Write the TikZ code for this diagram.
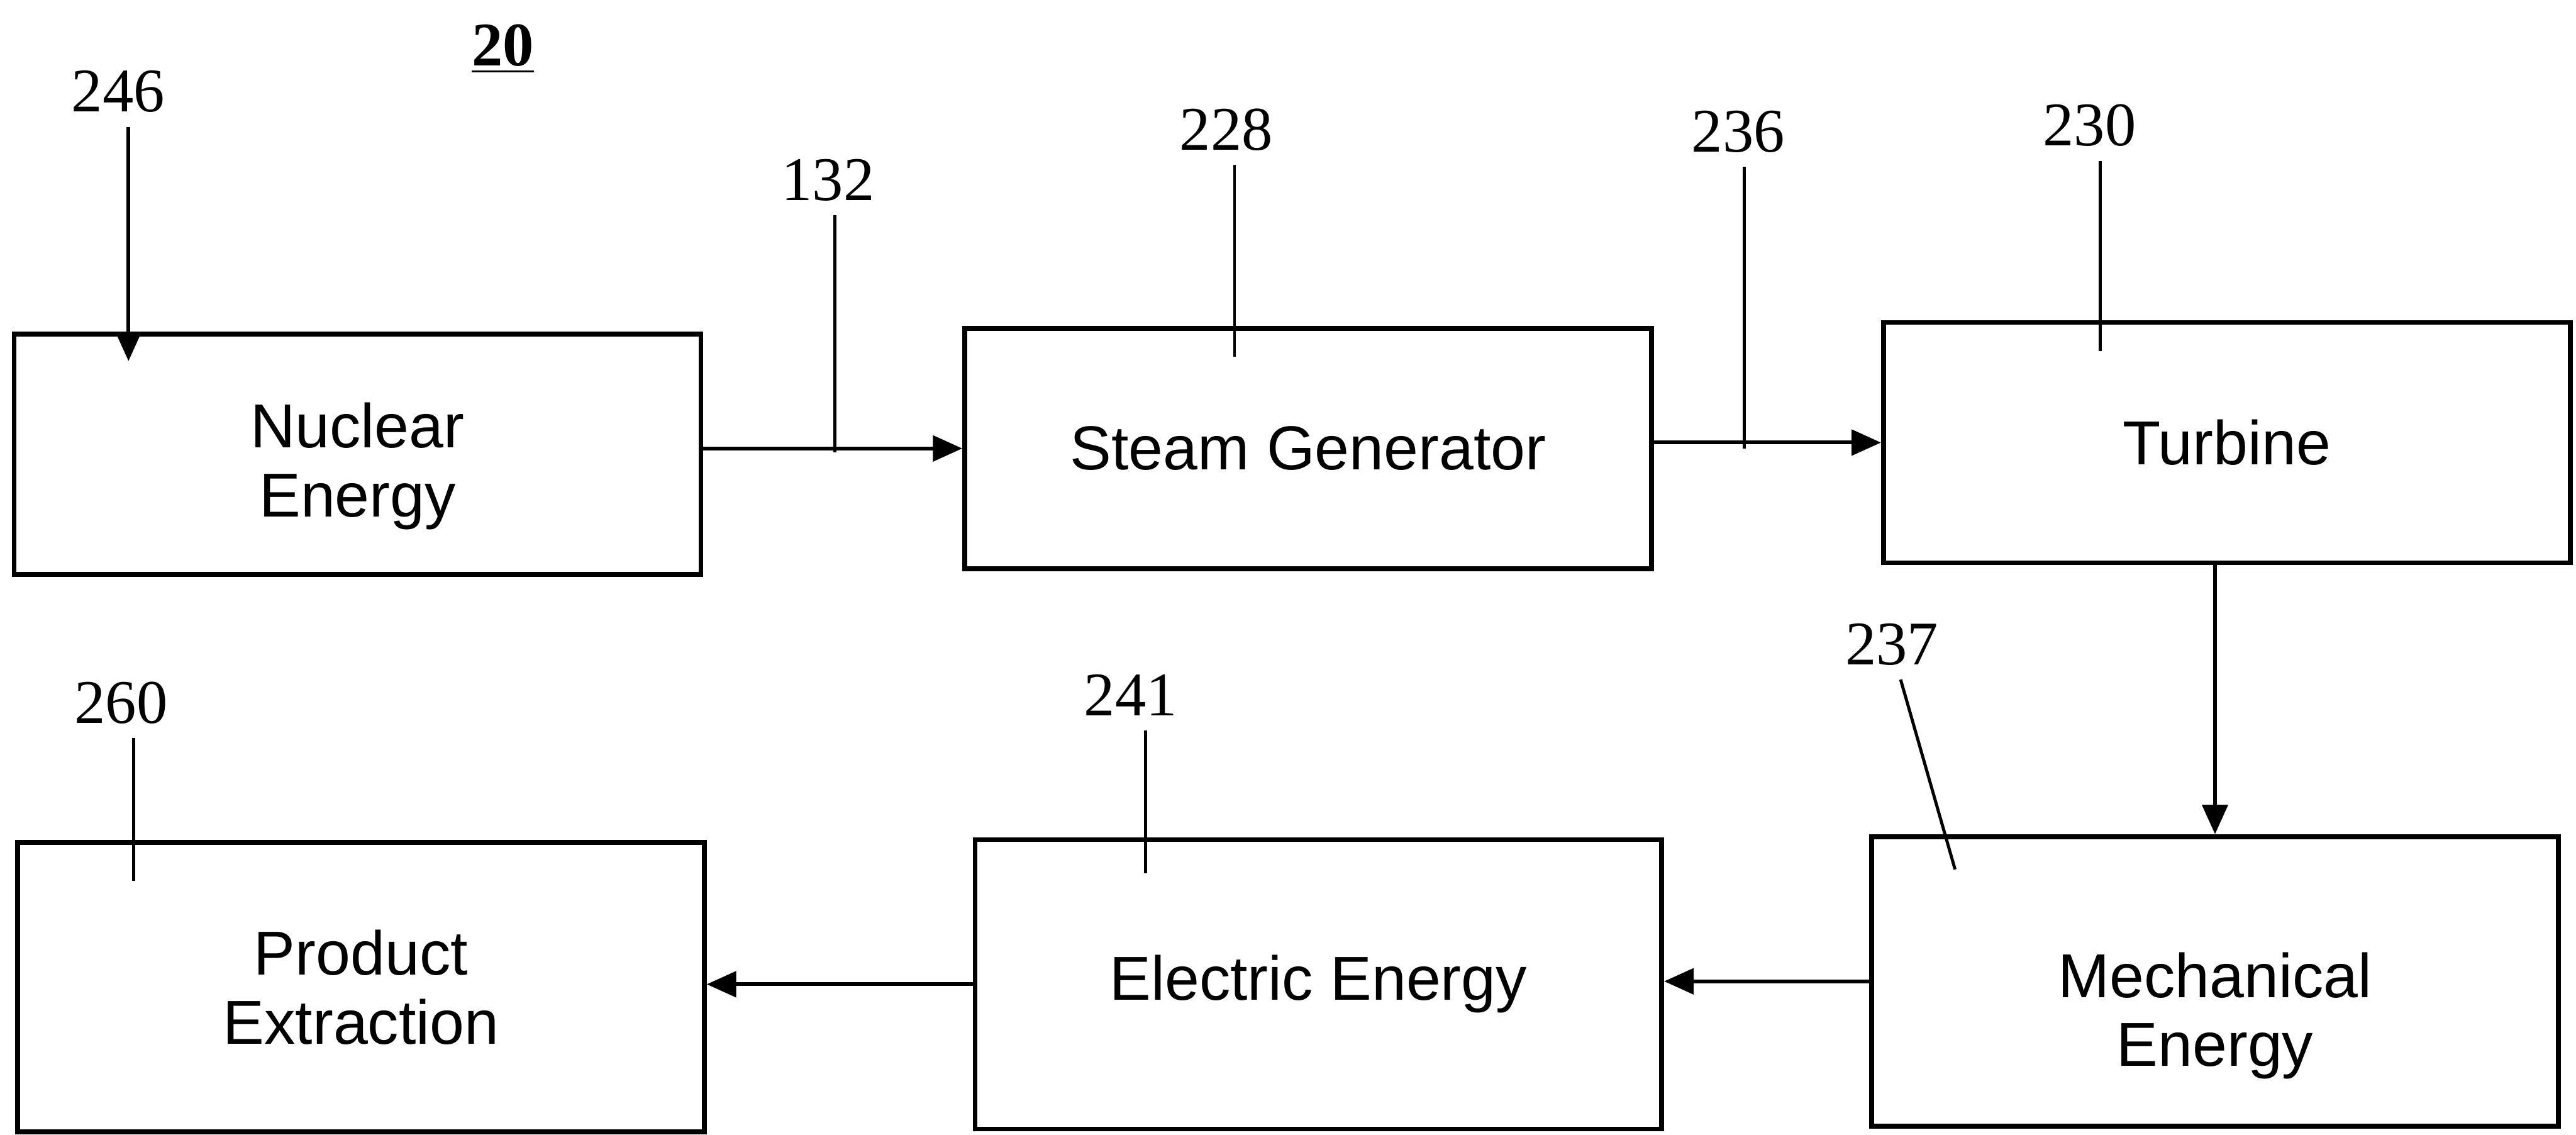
\documentclass[tikz,border=0pt]{standalone}
\usepackage{fontspec}
\setmainfont{Liberation Sans}
\newfontfamily\numfont{Liberation Serif}
\usepackage{tikz}
\usetikzlibrary{arrows.meta, positioning}

\begin{document}
\begin{tikzpicture}[
        box/.style={rectangle, draw=black, line width=1.4pt, minimum width=7cm, minimum height=2.45cm, align=center, font=\fontsize{18}{20}\selectfont},
        lowbox/.style={box, minimum height=2.95cm},
        num/.style={inner sep=4pt, font=\numfont\fontsize{18}{20}\selectfont},
        arrow/.style={-{Triangle[length=0.3cm, width=0.26cm]}, line width=1.1pt},
        lead/.style={line width=0.9pt}
    ]
        \useasboundingbox (0,0) rectangle (26.26,11.56);

        % Top Row
        \node[box, text height=40pt] (nuc) at (3.645, 6.93) {Nuclear\\Energy};
        \node[box] (steam) at (13.335, 6.99) {Steam Generator};
        \node[box] (turb) at (22.70, 7.05) {Turbine};

        % Bottom Row
        \node[lowbox] (prod) at (3.68, 1.50) {Product\\Extraction};
        \node[lowbox] (elec) at (13.44, 1.53) {Electric Energy};
        \node[lowbox, text height=53pt] (mech) at (22.58, 1.56) {Mechanical\\Energy};

        % Reference numbers
        \node[num] (fig) at (5.125, 11.06) {\bfseries\underline{20}};
        \node[num] (n246) at (1.205, 10.625) {246};
        \node[num] (n132) at (8.44, 9.725) {132};
        \node[num] (n228) at (12.50, 10.24) {228};
        \node[num] (n236) at (17.72, 10.22) {236};
        \node[num] (n230) at (21.30, 10.28) {230};
        \node[num] (n237) at (19.285, 4.995) {237};
        \node[num] (n241) at (11.525, 4.475) {241};
        \node[num] (n260) at (1.235, 4.40) {260};

        \coordinate (e246) at (1.31, 7.88);
        \coordinate (e132) at (8.51, 6.95);
        \coordinate (e228) at (12.585, 7.925);
        \coordinate (e236) at (17.78, 6.99);
        \coordinate (e230) at (21.41, 7.985);
        \coordinate (e237) at (19.93, 2.70);
        \coordinate (e241) at (11.68, 2.66);
        \coordinate (e260) at (1.365, 2.585);

        % Connections
        \draw[arrow] (nuc.east |- steam.west) -- (steam.west);
        \draw[arrow] (steam.east |- turb.west) -- (turb.west);
        \draw[arrow] (turb.south -| mech.north) -- (mech.north);
        \draw[arrow] (mech.west) -- (elec.east |- mech.west);
        \draw[arrow] (elec.west) -- (prod.east |- elec.west);

        % Leaders
        \draw[arrow] (n246.south -| e246) -- (e246);
        \draw[lead] (n132.south -| e132) -- (e132);
        \draw[lead] (n228.south -| e228) -- (e228);
        \draw[lead] (n236.south -| e236) -- (e236);
        \draw[lead] (n230.south -| e230) -- (e230);
        \draw[lead] ([xshift=0.09cm]n237.south) -- (e237);
        \draw[lead] (n241.south -| e241) -- (e241);
        \draw[lead] (n260.south -| e260) -- (e260);
    \end{tikzpicture}
\end{document}
